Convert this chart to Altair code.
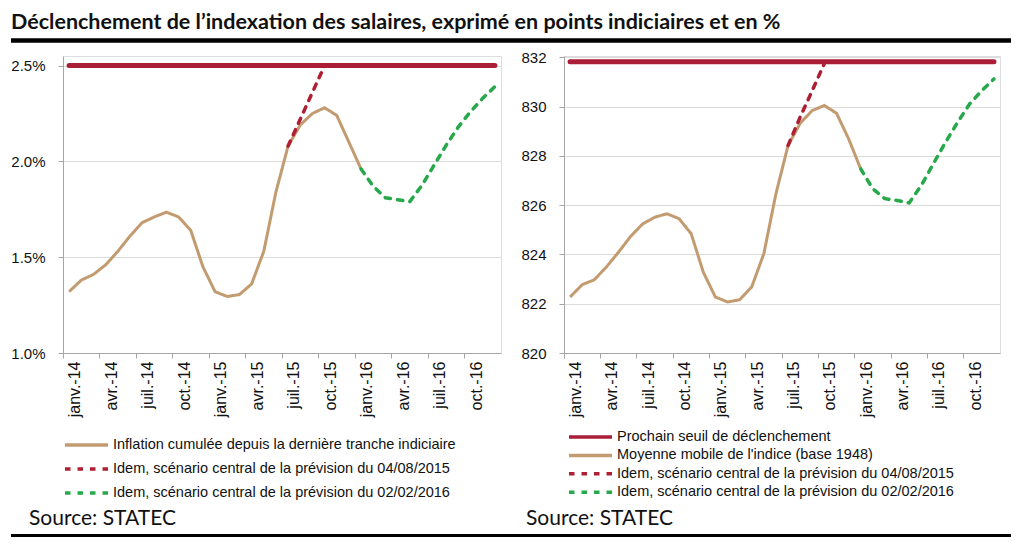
import altair as alt
import pandas as pd

months = ["janv.-14", "févr.-14", "mars-14", "avr.-14", "mai-14", "juin-14",
          "juil.-14", "août-14", "sept.-14", "oct.-14", "nov.-14", "déc.-14",
          "janv.-15", "févr.-15", "mars-15", "avr.-15", "mai-15", "juin-15",
          "juil.-15", "août-15", "sept.-15", "oct.-15", "nov.-15", "déc.-15",
          "janv.-16", "févr.-16", "mars-16", "avr.-16", "mai-16", "juin-16",
          "juil.-16", "août-16", "sept.-16", "oct.-16", "nov.-16", "déc.-16"]
shown_months = ["janv.-14", "avr.-14", "juil.-14", "oct.-14", "janv.-15", "avr.-15",
                "juil.-15", "oct.-15", "janv.-16", "avr.-16", "juil.-16", "oct.-16"]

# ---- left panel (cumulated inflation, %) ----
left_threshold = 2.5
left_brown = [1.32, 1.38, 1.41, 1.46, 1.53, 1.61, 1.68, 1.71, 1.735, 1.71, 1.64, 1.45,
              1.32, 1.295, 1.305, 1.36, 1.53, 1.84, 2.08, 2.19, 2.25, 2.28, 2.24, 2.10, 1.96]
left_red = [2.08, 2.22, 2.36, 2.50]
left_green = [1.96, 1.87, 1.81, 1.80, 1.79, 1.875, 1.98, 2.085, 2.18, 2.26, 2.33, 2.39]

# ---- right panel (index points) ----
right_threshold = 831.82
right_brown = [822.27, 822.77, 822.97, 823.49, 824.09, 824.73, 825.24, 825.51, 825.65,
               825.45, 824.84, 823.28, 822.27, 822.07, 822.16, 822.68, 824.03, 826.46,
               828.42, 829.32, 829.84, 830.04, 829.73, 828.69, 827.47]
right_red = [828.42, 829.57, 830.65, 831.75]
right_green = [827.47, 826.66, 826.26, 826.19, 826.09, 826.80, 827.68, 828.55, 829.36,
               830.11, 830.65, 831.12]

brown_start, red_start, green_start = 0, 18, 24

left_names = ["Inflation cumulée depuis la dernière tranche indiciaire",
              "Idem, scénario central de la prévision du 04/08/2015",
              "Idem, scénario central de la prévision du 02/02/2016"]
right_names = ["Prochain seuil de déclenchement",
               "Moyenne mobile de l'indice (base 1948)",
               "Idem, scénario central de la prévision du 04/08/2015",
               "Idem, scénario central de la prévision du 02/02/2016"]

RED_T = "#AA1E37"
BROWN = "#C39B70"
RED_D = "#AF1F33"
GREEN = "#27A84B"

title_text = "Déclenchement de l’indexation des salaires, exprimé en points indiciaires et en %"
source_text = "Source: STATEC"

HEAD_FONT = "Lato"
AXIS_FONT = "Liberation Sans"
LEG_FONT = "Liberation Sans"
DASH = [5.5, 7]


def series_df(names, brown, red, green):
    rows = []
    for name, vals, start in [(names[0], brown, brown_start), (names[1], red, red_start),
                              (names[2], green, green_start)]:
        for k, v in enumerate(vals):
            rows.append({"month": months[start + k], "value": v, "series": name})
    return pd.DataFrame(rows)


one = pd.DataFrame({"k": [0]})

W_L, W_R, H = 438, 436, 297


def x_enc():
    return alt.X("month:N", sort=months,
                 scale=alt.Scale(type="band", domain=months, paddingInner=0, paddingOuter=0),
                 bandPosition=0.5,
                 axis=alt.Axis(values=shown_months, bandPosition=0, labelOffset=6,
                               labelAngle=-90, tickSize=5, labelPadding=3, title=None,
                               grid=False, domainColor="#a6a6a6", tickColor="#a6a6a6",
                               labelFont=AXIS_FONT, labelFontSize=16, labelColor="#111"))


def y_enc(domain, values, expr):
    return alt.Y("value:Q", scale=alt.Scale(domain=domain, nice=False, zero=False),
                 axis=alt.Axis(values=values, labelExpr=expr, title=None, tickSize=5,
                               labelPadding=13, grid=True, gridColor="#dcdcdc",
                               domainColor="#a6a6a6", tickColor="#a6a6a6",
                               labelFont=AXIS_FONT, labelFontSize=15, labelColor="#111"))


def legend(x, y, clip, rowpad):
    return alt.Legend(title=None, orient="none", legendX=x, legendY=y, symbolType="stroke",
                      symbolSize=1849, symbolStrokeWidth=3.5, labelFont=LEG_FONT,
                      labelFontSize=14.5, labelColor="#111", clipHeight=clip,
                      rowPadding=rowpad, padding=0, labelOffset=3, labelLimit=0)


# ---------- left ----------
dl = series_df(left_names, left_brown, left_red, left_green)
leg_l = legend(0, 381, 16, 8)
col_l = alt.Color("series:N", scale=alt.Scale(domain=left_names, range=[BROWN, RED_D, GREEN]),
                  legend=leg_l)
dash_l = alt.StrokeDash("series:N", scale=alt.Scale(domain=left_names,
                                                   range=[[1, 0], DASH, DASH]),
                        legend=leg_l)

thr_l = alt.Chart(pd.DataFrame({"month": months, "value": [left_threshold] * len(months)})
                  ).mark_line(color=RED_T, strokeWidth=5, strokeCap="round").encode(
    x=x_enc(), y=y_enc([1.0, 2.55], [1.0, 1.5, 2.0, 2.5], "format(datum.value, '.1f') + '%'"))
brown_l = alt.Chart(dl[dl.series == left_names[0]]).mark_line(strokeWidth=3).encode(
    x=x_enc(), y="value:Q", color=col_l, strokeDash=dash_l)
dashed_l = alt.Chart(dl[dl.series != left_names[0]]).mark_line(
    strokeWidth=3.5, strokeCap="round").encode(
    x=x_enc(), y="value:Q", color=col_l, strokeDash=dash_l)

title_l = alt.Chart(one).mark_text(text=title_text, align="left", baseline="alphabetic",
                                   font=HEAD_FONT, fontSize=21.5, fontWeight="bold",
                                   color="#111").encode(x=alt.value(-52), y=alt.value(-27.5))
top_rule = alt.Chart(one).mark_rule(color="black", strokeWidth=4.5).encode(
    x=alt.value(-52), x2=alt.value(948), y=alt.value(-15.5))
bot_rule = alt.Chart(one).mark_rule(color="black", strokeWidth=3).encode(
    x=alt.value(-52), x2=alt.value(948), y=alt.value(479.5))
src_l = alt.Chart(one).mark_text(text=source_text, align="left", baseline="alphabetic",
                                 font=HEAD_FONT, fontSize=21, color="#111").encode(
    x=alt.value(-34), y=alt.value(468.5))

left = alt.layer(thr_l, brown_l, dashed_l, title_l, top_rule, bot_rule, src_l).properties(
    width=W_L, height=H)

# ---------- right ----------
dr = series_df(right_names[1:], right_brown, right_red, right_green)
dthr = pd.DataFrame({"month": months, "value": [right_threshold] * len(months),
                     "series": [right_names[0]] * len(months)})
leg_r = legend(3, 373, 16, 2.4)
col_r = alt.Color("series:N", scale=alt.Scale(domain=right_names,
                                              range=[RED_T, BROWN, RED_D, GREEN]),
                  legend=leg_r)
dash_r = alt.StrokeDash("series:N", scale=alt.Scale(domain=right_names,
                                                   range=[[1, 0], [1, 0], DASH, DASH]),
                        legend=leg_r)

thr_r = alt.Chart(dthr).mark_line(strokeWidth=5, strokeCap="round").encode(
    x=x_enc(), y=y_enc([820, 832.05], [820, 822, 824, 826, 828, 830, 832], "datum.value"),
    color=col_r, strokeDash=dash_r)
brown_r = alt.Chart(dr[dr.series == right_names[1]]).mark_line(strokeWidth=3).encode(
    x=x_enc(), y="value:Q", color=col_r, strokeDash=dash_r)
dashed_r = alt.Chart(dr[dr.series != right_names[1]]).mark_line(
    strokeWidth=3.5, strokeCap="round").encode(
    x=x_enc(), y="value:Q", color=col_r, strokeDash=dash_r)
src_r = alt.Chart(one).mark_text(text=source_text, align="left", baseline="alphabetic",
                                 font=HEAD_FONT, fontSize=21, color="#111").encode(
    x=alt.value(-38), y=alt.value(468.5))

right = alt.layer(thr_r, brown_r, dashed_r, src_r).properties(width=W_R, height=H)

chart = alt.hconcat(left, right, spacing=63, bounds="flush").resolve_scale(
    color="independent", strokeDash="independent", x="independent", y="independent"
).resolve_legend(color="independent", strokeDash="independent").properties(
    padding={"left": 0, "top": 3, "right": 0, "bottom": 0}
).configure_view(stroke=None).configure(background="white")

chart.save("out.html", embed_options={"renderer": "svg", "actions": False})
